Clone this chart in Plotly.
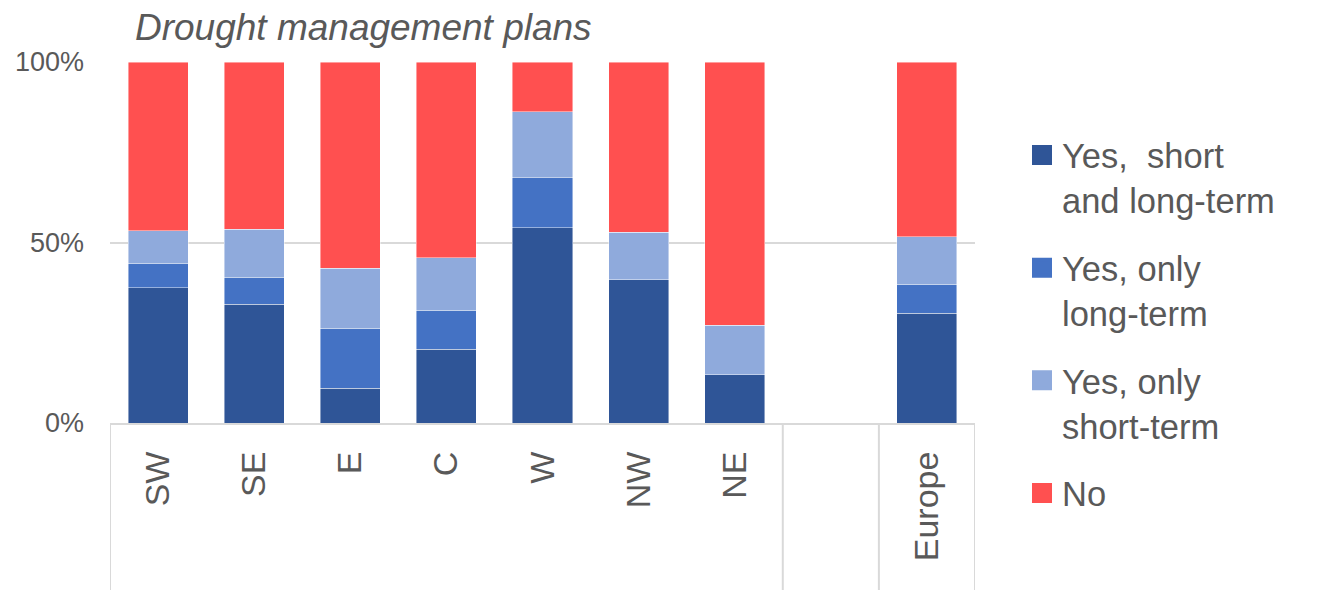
import plotly.graph_objects as go

categories = ["SW", "SE", "E", "C", "W", "NW", "NE", " ", "Europe"]
groups = [["SW", "SE", "E", "C", "W", "NW", "NE"], [" "], ["Europe"]]

series_names = [
    "Yes,\u00a0 short<br>and long-term",
    "Yes, only<br>long-term",
    "Yes, only<br>short-term",
    "No",
]
yes_short_long = [37.5, 32.9, 9.6, 20.5, 54.1, 39.7, 13.4, None, 30.4]
yes_long = [6.8, 7.5, 16.7, 10.8, 13.9, 0.0, 0.0, None, 8.0]
yes_short = [9.0, 13.3, 16.6, 14.5, 18.2, 13.2, 13.7, None, 13.2]
no = [46.7, 46.3, 57.1, 54.2, 13.8, 47.1, 72.9, None, 48.4]
colors = ["#2F5597", "#4472C4", "#8FAADC", "#FF5050"]

series_values = [yes_short_long, yes_long, yes_short, no]

fig = go.Figure()
for i, (name, vals, col) in enumerate(zip(series_names, series_values, colors)):
    fig.add_trace(go.Bar(
        x=categories,
        y=[None if v is None else v / 100 for v in vals],
        name=name,
        marker=dict(color=col, line=dict(color="rgba(255,255,255,0.55)", width=0.8)),
        showlegend=False,
        hoverinfo="skip",
    ))
    # legend entry with a larger square symbol
    fig.add_trace(go.Scatter(
        x=[None], y=[None], mode="markers", name=name,
        marker=dict(symbol="square", size=16, color=col, line=dict(color=col, width=4)),
        legendgroup=f"g{i}", showlegend=True,
    ))

# group separators along the category axis
bounds = [-0.5]
count = 0
for g in groups:
    count += len(g)
    bounds.append(count - 0.5)
for b in bounds:
    fig.add_shape(type="line", xref="x", yref="paper", x0=b, x1=b, y0=0, y1=-0.47,
                  line=dict(color="#D9D9D9", width=2), layer="above")

fig.update_layout(
    width=1321, height=590,
    margin=dict(l=110, r=346, t=62, b=167, autoexpand=False),
    barmode="stack",
    bargap=0.375,
    plot_bgcolor="white",
    paper_bgcolor="white",
    font=dict(family="Liberation Sans, Arial, sans-serif", color="#595959"),
    title=dict(text="<i>Drought management plans</i>", xref="container", x=135 / 1321,
               xanchor="left", yref="container", y=1 - 27 / 590, yanchor="middle",
               font=dict(size=37, color="#595959")),
    legend=dict(
        xref="container", x=1022 / 1321, xanchor="left",
        yref="container", y=1 - 126 / 590, yanchor="top",
        traceorder="grouped", tracegroupgap=20, valign="top",
        font=dict(size=34.5, color="#595959"),
        bgcolor="rgba(0,0,0,0)",
        maxheight=580,
    ),
    showlegend=True,
)
fig.update_xaxes(
    type="category", categoryorder="array", categoryarray=categories,
    tickangle=-90, tickfont=dict(size=34, color="#595959"),
    showline=True, linecolor="#D9D9D9", linewidth=2,
    showgrid=False, ticks="", ticklabelstandoff=13, automargin=False,
    range=[-0.5, len(categories) - 0.5],
)
fig.update_yaxes(
    range=[0, 1], tickvals=[0, 0.5, 1], tickformat=".0%",
    tickfont=dict(size=27, color="#595959"),
    showgrid=True, gridcolor="#D9D9D9", gridwidth=2,
    zeroline=False, showline=False, ticks="", ticklabelstandoff=25, automargin=False,
)

fig.write_html("out.html", config={"displayModeBar": False},
               post_script="document.body.style.margin='0';")
